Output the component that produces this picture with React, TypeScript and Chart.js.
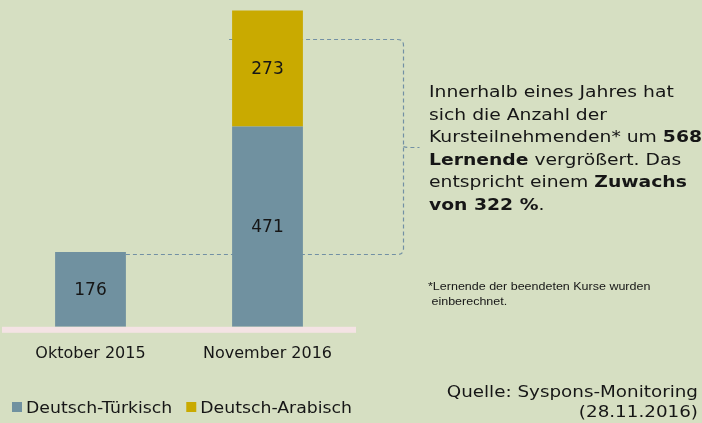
import React, { useEffect, useRef } from "react";
import { Chart, registerables } from "chart.js";

Chart.register(...registerables);

// ---- data ----
const categories = ["Oktober 2015", "November 2016"];
const seriesNames = ["Deutsch-Türkisch", "Deutsch-Arabisch"];
const tuerkischValues: (number | null)[] = [176, 471];
const arabischValues: (number | null)[] = [null, 273];
const yMax = 750;

// bracket annotation (values on the y scale)
const bracketLowValue = 176;
const bracketHighValue = 678;

const annotationLines: [string, boolean][][] = [
  [["Innerhalb eines Jahres hat", false]],
  [["sich die Anzahl der", false]],
  [["Kursteilnehmenden* um ", false], ["568", true]],
  [["Lernende", true], [" vergrößert. Das", false]],
  [["entspricht einem ", false], ["Zuwachs", true]],
  [["von 322 %", true], [".", false]],
];
const footnoteLines = ["*Lernende der beendeten Kurse wurden", " einberechnet."];
const sourceLines = ["Quelle: Syspons-Monitoring", "(28.11.2016)"];

const COLORS = {
  bg: "#d6dfc2",
  blue: "#7091a0",
  gold: "#c9aa00",
  base: "#f4e3e4",
  dash: "#7290a4",
  text: "#161616",
};

const FONT = "'DejaVu Sans', Verdana, sans-serif";

function drawScaledText(
  ctx: CanvasRenderingContext2D,
  text: string,
  x: number,
  y: number,
  font: string,
  sx: number,
  align: CanvasTextAlign = "left"
) {
  ctx.save();
  ctx.font = font;
  ctx.textAlign = align;
  ctx.textBaseline = "alphabetic";
  ctx.translate(x, y);
  ctx.scale(sx, 1);
  ctx.fillText(text, 0, 0);
  ctx.restore();
}

const decorPlugin = {
  id: "decor",
  beforeDatasetsDraw(chart: any) {
    const { ctx, chartArea } = chart;
    // pink baseline band
    ctx.save();
    ctx.fillStyle = COLORS.base;
    ctx.fillRect(chartArea.left, chartArea.bottom, chartArea.right - chartArea.left, 6);

    // dashed bracket
    const meta0 = chart.getDatasetMeta(0);
    const b1 = meta0.data[0] as any;
    const b2 = meta0.data[1] as any;
    const ys = chart.scales.y;
    const yLow = Math.round(ys.getPixelForValue(bracketLowValue)) + 2.5;
    const yHigh = Math.round(ys.getPixelForValue(bracketHighValue)) + 0.5;
    const bx = Math.round(chartArea.right + 47) + 0.5;
    const r = 6;
    ctx.strokeStyle = COLORS.dash;
    ctx.lineWidth = 1.2;
    ctx.setLineDash([4, 3]);
    ctx.beginPath();
    ctx.moveTo(b1.x + b1.width / 2, yLow);
    ctx.lineTo(bx - r, yLow);
    ctx.quadraticCurveTo(bx, yLow, bx, yLow - r);
    ctx.lineTo(bx, yHigh + r);
    ctx.quadraticCurveTo(bx, yHigh, bx - r, yHigh);
    ctx.lineTo(b2.x - b2.width / 2 - 3, yHigh);
    ctx.stroke();
    const ym = Math.round((yLow + yHigh) / 2) + 0.5;
    ctx.beginPath();
    ctx.moveTo(bx, ym - 1);
    ctx.quadraticCurveTo(bx + 2, ym, bx + 5, ym);
    ctx.lineTo(bx + 16, ym);
    ctx.stroke();
    ctx.restore();
  },
  afterDatasetsDraw(chart: any) {
    const { ctx } = chart;
    ctx.save();
    ctx.fillStyle = COLORS.text;
    ctx.font = `17px ${FONT}`;
    ctx.textAlign = "center";
    ctx.textBaseline = "middle";
    chart.data.datasets.forEach((ds: any, di: number) => {
      const meta = chart.getDatasetMeta(di);
      meta.data.forEach((el: any, i: number) => {
        const v = ds.data[i];
        if (v == null) return;
        ctx.fillText(String(v), el.x, (el.y + el.base) / 2 + 1);
      });
    });
    ctx.restore();
  },
  afterDraw(chart: any) {
    const { ctx } = chart;
    ctx.save();
    ctx.fillStyle = COLORS.text;

    // annotation text
    const ax = 429;
    const ay = 97;
    const pitch = 22.6;
    const sx = 1.21;
    annotationLines.forEach((segs, li) => {
      let x = ax;
      const y = ay + li * pitch;
      segs.forEach(([t, bold]) => {
        const f = `${bold ? "bold " : ""}15.5px ${FONT}`;
        ctx.font = f;
        const w = ctx.measureText(t).width * sx;
        drawScaledText(ctx, t, x, y, f, sx);
        x += w;
      });
    });

    // footnote
    footnoteLines.forEach((t, i) => {
      drawScaledText(ctx, t, 428, 290 + i * 15, `10px 'Liberation Sans', Arial, sans-serif`, 1.25);
    });

    // source
    sourceLines.forEach((t, i) => {
      drawScaledText(ctx, t, 698, 397 + i * 19.5, `16.5px ${FONT}`, 1.11, "right");
    });

    // legend
    const legendFont = `16px ${FONT}`;
    const legendSx = 1.08;
    let lx = 12;
    chart.data.datasets.forEach((ds: any) => {
      ctx.fillStyle = ds.backgroundColor;
      ctx.fillRect(lx, 402, 10, 10);
      ctx.fillStyle = COLORS.text;
      drawScaledText(ctx, ds.label, lx + 14, 413, legendFont, legendSx);
      ctx.font = legendFont;
      lx += 14 + ctx.measureText(ds.label).width * legendSx + 14;
    });
    ctx.restore();
  },
};

export default function App() {
  const ref = useRef<HTMLCanvasElement | null>(null);
  useEffect(() => {
    if (!ref.current) return;
    const chart = new Chart(ref.current, {
      type: "bar",
      data: {
        labels: categories,
        datasets: [
          {
            label: seriesNames[0],
            data: tuerkischValues,
            backgroundColor: COLORS.blue,
            borderWidth: 0,
          },
          {
            label: seriesNames[1],
            data: arabischValues,
            backgroundColor: COLORS.gold,
            borderWidth: 0,
          },
        ],
      },
      options: {
        responsive: false,
        animation: false,
        layout: { padding: { left: 2, right: 346, top: 8, bottom: 43 } },
        datasets: {
          bar: { barPercentage: 0.4, categoryPercentage: 1 },
        },
        plugins: {
          legend: { display: false },
          tooltip: { enabled: false },
        },
        scales: {
          x: {
            stacked: true,
            grid: { display: false, drawTicks: false },
            border: { display: false },
            ticks: {
              padding: 17,
              color: COLORS.text,
              font: { family: FONT, size: 16 },
            },
          },
          y: {
            stacked: true,
            display: false,
            min: 0,
            max: yMax,
          },
        },
      },
      plugins: [decorPlugin],
    });
    return () => chart.destroy();
  }, []);

  return (
    <div
      style={{
        position: "absolute",
        left: 0,
        top: 0,
        width: 702,
        height: 423,
        background: COLORS.bg,
      }}
    >
      <canvas ref={ref} width={702} height={423} style={{ display: "block" }} />
    </div>
  );
}
